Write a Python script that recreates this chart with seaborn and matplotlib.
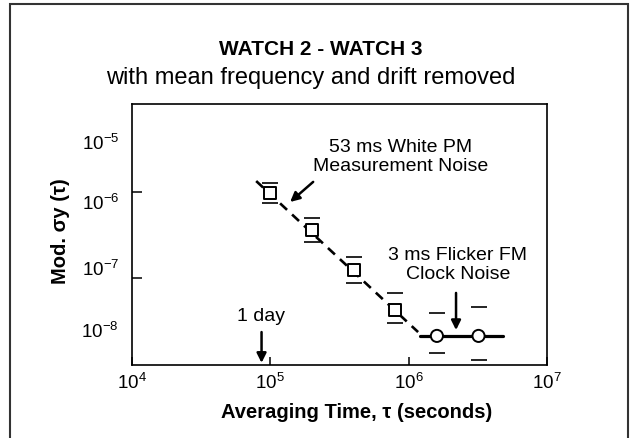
import numpy as np
import pandas as pd
import matplotlib
matplotlib.use("Agg")
import matplotlib.pyplot as plt
import seaborn as sns
from matplotlib.patches import Rectangle

# ---- data ----
tau = [1e5, 2e5, 4e5, 8e5, 1.6e6, 3.2e6]
sigma = [9.7e-7, 3.6e-7, 1.24e-7, 4.25e-8, 2.12e-8, 2.12e-8]
err_hi = [1.27e-6, 4.99e-7, 1.75e-7, 6.7e-8, 3.92e-8, 4.6e-8]
err_lo = [7.45e-7, 2.62e-7, 8.75e-8, 3.0e-8, 1.34e-8, 1.11e-8]
noise = ["white PM"] * 4 + ["flicker FM"] * 2

white_tau = [7.9e4, 1.17e6]
white_sigma = [1.34e-6, 2.35e-8]
flicker_tau = [1.21e6, 4.8e6]
flicker_sigma = [2.12e-8, 2.12e-8]

x_ticks = [1e4, 1e5, 1e6, 1e7]
x_labels = ["$10^{4}$", "$10^{5}$", "$10^{6}$", "$10^{7}$"]
y_label_pos = [10 ** -5.419, 10 ** -6.116, 10 ** -6.884, 10 ** -7.605]
y_labels = ["$10^{-5}$", "$10^{-6}$", "$10^{-7}$", "$10^{-8}$"]
y_tick_marks = [1e-6, 1e-7]

df = pd.DataFrame({"tau": tau, "sigma": sigma, "noise": noise})

sns.set_theme(style="white")
plt.rcParams["font.family"] = ["Liberation Sans", "DejaVu Sans"]
plt.rcParams["mathtext.fontset"] = "custom"
plt.rcParams["mathtext.rm"] = "Liberation Sans"
plt.rcParams["mathtext.it"] = "Liberation Sans:italic"
plt.rcParams["mathtext.bf"] = "Liberation Sans:bold"
plt.rcParams["text.color"] = "black"
plt.rcParams["xtick.color"] = "black"
plt.rcParams["ytick.color"] = "black"
plt.rcParams["xtick.labelcolor"] = "black"
plt.rcParams["ytick.labelcolor"] = "black"

W, H = 634, 438
fig = plt.figure(figsize=(W / 100, H / 100), dpi=100)
fig.patch.set_facecolor("white")
ax = fig.add_axes([132 / W, 1 - 365 / H, (547 - 132) / W, (365 - 104) / H])
ax.set_xscale("log")
ax.set_yscale("log")

# fitted lines
sns.lineplot(x=white_tau, y=white_sigma, ax=ax, color="black", lw=1.9,
             linestyle=(0, (3.6, 2.6)), zorder=2)
sns.lineplot(x=flicker_tau, y=flicker_sigma, ax=ax, color="black", lw=2.3,
             zorder=2)

# error caps only
yerr = [np.array(sigma) - np.array(err_lo), np.array(err_hi) - np.array(sigma)]
ax.errorbar(tau, sigma, yerr=yerr, fmt="none", ecolor="black", elinewidth=0,
            capsize=6, capthick=1.2, zorder=3)

# markers
sns.scatterplot(data=df, x="tau", y="sigma", style="noise",
                markers={"white PM": "s", "flicker FM": "o"},
                s=76, color="white", edgecolor="black",
                linewidth=1.4, ax=ax, zorder=4, legend=False)
for coll in ax.collections[-1:]:
    coll.set_facecolor("white")
    coll.set_edgecolor("black")

ax.set_xlim(1e4, 1e7)
ax.set_ylim(10 ** -8.012, 10 ** -4.977)

# ticks
ax.set_xticks(x_ticks)
ax.set_xticklabels(x_labels)
ax.xaxis.set_minor_locator(matplotlib.ticker.NullLocator())
ax.set_yticks(y_tick_marks)
ax.set_yticklabels(["", ""])
ax.set_yticks(y_label_pos, minor=True)
ax.set_yticklabels(y_labels, minor=True)
ax.tick_params(axis="x", which="major", direction="in", length=5.8, width=1.1,
               color="black", labelsize=13.5, pad=6, bottom=True)
ax.tick_params(axis="y", which="major", direction="in", length=7.2, width=1.1,
               color="black", left=True)
ax.tick_params(axis="y", which="minor", length=0, labelsize=13.5, pad=9.4, left=True)
for sp in ax.spines.values():
    sp.set_color("black")
    sp.set_linewidth(1.2)

ax.set_xlabel("")
ax.set_ylabel("")

# annotations
ax.text(8.8e5, 2.55e-6, "53 ms White PM\nMeasurement Noise", ha="center",
        va="center", fontsize=14, linespacing=1.2)
ax.annotate("", xy=(1.39e5, 7.65e-7), xytext=(2.04e5, 1.31e-6),
            arrowprops=dict(arrowstyle="-|>", color="black", lw=1.8,
                            mutation_scale=14, shrinkA=0, shrinkB=0))
ax.text(2.27e6, 1.42e-7, "3 ms Flicker FM\nClock Noise", ha="center",
        va="center", fontsize=14, linespacing=1.2)
ax.annotate("", xy=(2.2e6, 2.48e-8), xytext=(2.2e6, 6.7e-8),
            arrowprops=dict(arrowstyle="-|>", color="black", lw=1.8,
                            mutation_scale=14, shrinkA=0, shrinkB=0))
ax.text(8.6e4, 3.52e-8, "1 day", ha="center", va="center", fontsize=14)
ax.annotate("", xy=(86400, 1.03e-8), xytext=(86400, 2.35e-8),
            arrowprops=dict(arrowstyle="-|>", color="black", lw=1.8,
                            mutation_scale=14, shrinkA=0, shrinkB=0))

# titles and axis labels
fig.text(321 / W, 1 - 55 / H, "WATCH 2 - WATCH 3", ha="center", va="baseline",
         fontsize=15, fontweight="bold")
fig.text(311 / W, 1 - 84 / H, "with mean frequency and drift removed",
         ha="center", va="baseline", fontsize=17)
fig.text(357 / W, 1 - 418 / H, "Averaging Time, τ (seconds)", ha="center",
         va="baseline", fontsize=14.5, fontweight="bold")
fig.text(60 / W, 1 - 231 / H, "Mod. σy (τ)", ha="center", va="center",
         rotation=90, fontsize=14.5, fontweight="bold")

# outer frame
fig.add_artist(Rectangle((10 / W, -0.1), (628 - 10) / W, 1.1 - 4 / H,
                         transform=fig.transFigure, fill=False, lw=1.5,
                         edgecolor="#333333", zorder=0))

fig.savefig("out.png", dpi=100, facecolor="white")
